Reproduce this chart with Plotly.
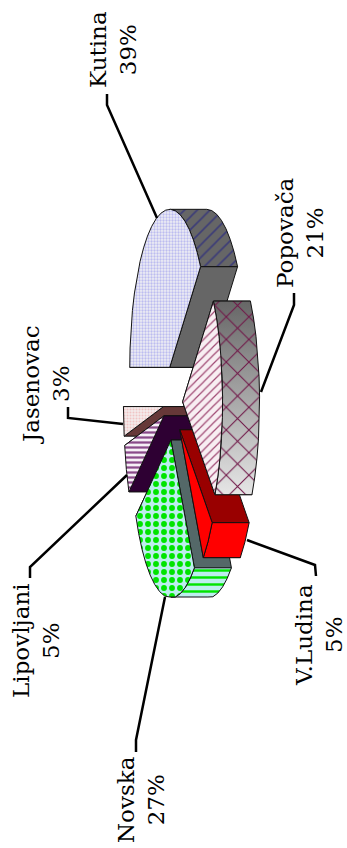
import numpy as np
import plotly.graph_objects as go

# shares of the pie, in drawing order of the original (clockwise from 12 o'clock)
towns = ["Kutina", "Popovača", "V.Ludina", "Novska", "Lipovljani", "Jasenovac"]
shares = [39, 21, 5, 27, 5, 3]

# look of the chart: pie lying on its side, viewed in page pixels
CX, CY = 173, 403
RX, RY = 40, 158
DEPTH = 37
EXPLODE = 0.24
CLIP_TOP, CLIP_BOTTOM = 208, 597
LINE = "#111111"
FONT = dict(family="DejaVu Serif", size=23, color="#000000")

top_style = {
    "Kutina": dict(bgcolor="#eeeef4", fgcolor="#bcbcf0", fgopacity=1, shape=".", size=3, solidity=0.45),
    "Popovača": dict(bgcolor="#f8eef2", fgcolor="#a04a74", fgopacity=1, shape="/", size=6, solidity=0.2),
    "V.Ludina": dict(bgcolor="#ff0000", fgcolor="#ff0000", shape="", size=8, solidity=0.1),
    "Novska": dict(bgcolor="#bdeeee", fgcolor="#00e400", fgopacity=1, shape=".", size=8, solidity=0.42),
    "Lipovljani": dict(bgcolor="#f6f0f6", fgcolor="#8a4a8a", fgopacity=1, shape="-", size=5, solidity=0.45),
    "Jasenovac": dict(bgcolor="#f4ecec", fgcolor="#f0c4c4", fgopacity=1, shape=".", size=3, solidity=0.35),
}
wall_colors = {
    "Kutina": "#666666", "Popovača": "#777777", "V.Ludina": "#990000",
    "Novska": "#546868", "Lipovljani": "#2e0033", "Jasenovac": "#663838",
}
rim_style = {
    "Kutina": dict(bgcolor="#666666", fgcolor="#3c3c78", fgopacity=1, shape="/", size=9, solidity=0.18),
    "Popovača": dict(bgcolor="rgba(0,0,0,0)", fgcolor="#701848", fgopacity=1, shape="x", size=16, solidity=0.13),
    "V.Ludina": dict(bgcolor="#ff0000", fgcolor="#ff0000", shape="", size=8, solidity=0.1),
    "Novska": dict(bgcolor="#bdeeee", fgcolor="#00e400", fgopacity=1, shape="-", size=7, solidity=0.35),
}

# paint order: back slices first
paint_order = ["Kutina", "Jasenovac", "Lipovljani", "Novska", "V.Ludina", "Popovača"]

# label block centre, and leader line path (page pixels)
label_pos = {
    "Kutina": (113, 50), "Popovača": (300, 233), "V.Ludina": (319, 635),
    "Novska": (141, 800), "Lipovljani": (36, 641), "Jasenovac": (46, 385),
}
leaders = {
    "Kutina": [(157, 218), (107, 105), (107, 94)],
    "Popovača": [(261, 392), (294, 305), (294, 293)],
    "V.Ludina": [(247, 540), (315, 565), (316, 576)],
    "Novska": [(165, 597), (136, 740), (136, 752)],
    "Lipovljani": [(127, 475), (30, 567), (30, 578)],
    "Jasenovac": [(123, 424), (68, 418), (68, 407)],
}


def point(cx, cy, deg):
    t = np.radians(deg)
    return cx - RX * np.cos(t), cy - RY * np.sin(t)


def arc(cx, cy, a0, a1):
    n = max(2, int(abs(a1 - a0) / 7) + 1)
    xs, ys = point(cx, cy, np.linspace(a0, a1, n))
    return xs, np.clip(ys, CLIP_TOP, CLIP_BOTTOM)


def poly(fig, xs, ys, **kw):
    fig.add_trace(go.Scatter(
        x=list(xs), y=list(ys), mode="lines", fill="toself",
        line=dict(color=LINE, width=1), hoverinfo="skip", **kw,
    ))


fig = go.Figure()

# work out each wedge from its share
edges = np.cumsum([0] + shares) * 3.6
wedges = {}
for town, a0, a1 in zip(towns, edges[:-1], edges[1:]):
    mid = (a0 + a1) / 2
    cx, cy = point(CX, CY, mid)
    cx = CX + (cx - CX) * EXPLODE
    cy = CY + (cy - CY) * EXPLODE
    wedges[town] = (cx, cy, a0, a1, mid)

for town in paint_order:
    cx, cy, a0, a1, mid = wedges[town]

    # radial walls, the one facing away goes first
    walls = []
    for edge in (a0, a1):
        ex, ey = point(cx, cy, edge)
        mx, my = point(cx, cy, mid)
        side = (ex - cx) * (my - cy) - (ey - cy) * (mx - cx)
        away = -(ey - cy) * DEPTH
        walls.append((away * side < 0, ex, ey))
    for _, ex, ey in sorted(walls, key=lambda w: w[0]):
        ey = min(max(ey, CLIP_TOP), CLIP_BOTTOM)
        poly(fig, [cx, cx + DEPTH, ex + DEPTH, ex, cx], [cy, cy, ey, ey, cy],
             fillcolor=wall_colors[town])

    # outer rim, only the arc on the viewer's side
    r0, r1 = max(a0, 90), min(a1, 270)
    if r1 > r0:
        xs, ys = arc(cx, cy, r0, r1)
        rx = np.concatenate([xs, xs[::-1] + DEPTH, xs[:1]])
        ry = np.concatenate([ys, ys[::-1], ys[:1]])
        if town == "Popovača":
            fig.add_trace(go.Scatter(
                x=rx, y=ry, mode="lines", fill="toself", line=dict(width=0),
                fillgradient=dict(type="vertical", colorscale=[[0, "#e6e6e6"], [1, "#666666"]]),
                hoverinfo="skip",
            ))
            poly(fig, rx, ry, fillcolor="rgba(0,0,0,0)", fillpattern=rim_style[town])
        else:
            poly(fig, rx, ry, fillcolor=rim_style[town]["bgcolor"], fillpattern=rim_style[town])

    # top face
    xs, ys = arc(cx, cy, a0, a1)
    poly(fig, np.concatenate([[cx], xs, [cx]]), np.concatenate([[cy], ys, [cy]]),
         fillcolor=top_style[town]["bgcolor"], fillpattern=top_style[town])

# leader lines
for town in towns:
    path = leaders[town]
    fig.add_trace(go.Scatter(
        x=[p[0] for p in path], y=[p[1] for p in path], mode="lines",
        line=dict(color="#000000", width=2.5), hoverinfo="skip",
    ))

# labels
for town, share in zip(towns, shares):
    lx, ly = label_pos[town]
    fig.add_annotation(
        x=lx, y=ly, text=f"{town}<br>{share}%", showarrow=False,
        textangle=-90, font=FONT, xanchor="center", yanchor="middle", align="center",
    )

fig.update_layout(
    width=347, height=848, margin=dict(l=0, r=0, t=0, b=0),
    paper_bgcolor="white", plot_bgcolor="white", showlegend=False,
    xaxis=dict(range=[0, 347], visible=False, fixedrange=True),
    yaxis=dict(range=[848, 0], visible=False, fixedrange=True),
)
# browser default body margin would shift the plot by 8px
fig.write_html("out.html", config=dict(displayModeBar=False),
               post_script="document.body.style.margin='0';")
